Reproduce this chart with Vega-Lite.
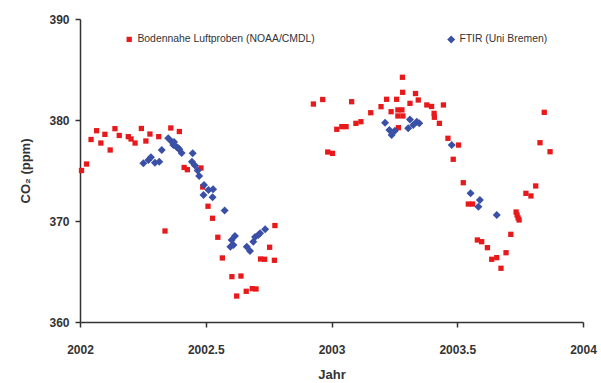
{
  "$schema": "https://vega.github.io/schema/vega-lite/v6.json",
  "width": 503,
  "height": 303,
  "autosize": {"type": "none"},
  "padding": {"left": 80, "top": 19, "right": 18, "bottom": 61},
  "background": "white",
  "config": {
    "view": {"stroke": null},
    "font": "Liberation Sans",
    "axis": {
      "grid": false,
      "domainColor": "#333333",
      "domainWidth": 1.5,
      "tickColor": "#333333",
      "tickWidth": 1.5,
      "tickSize": 5,
      "labelFlush": false,
      "labelFont": "Liberation Sans",
      "labelFontWeight": "bold",
      "labelFontSize": 12,
      "labelColor": "#333333",
      "titleFont": "Liberation Sans",
      "titleFontWeight": "bold",
      "titleFontSize": 13,
      "titleColor": "#333333"
    }
  },
  "data": {
    "values": [
      {"g": "N", "t": 2002.006, "c": 375.0},
      {"g": "N", "t": 2002.026, "c": 375.64},
      {"g": "N", "t": 2002.044, "c": 378.07},
      {"g": "N", "t": 2002.066, "c": 378.94},
      {"g": "N", "t": 2002.083, "c": 377.72},
      {"g": "N", "t": 2002.099, "c": 378.58},
      {"g": "N", "t": 2002.12, "c": 377.03},
      {"g": "N", "t": 2002.139, "c": 379.14},
      {"g": "N", "t": 2002.156, "c": 378.47},
      {"g": "N", "t": 2002.192, "c": 378.35},
      {"g": "N", "t": 2002.203, "c": 378.12},
      {"g": "N", "t": 2002.219, "c": 377.72},
      {"g": "N", "t": 2002.244, "c": 379.16},
      {"g": "N", "t": 2002.262, "c": 377.92},
      {"g": "N", "t": 2002.278, "c": 378.61},
      {"g": "N", "t": 2002.313, "c": 378.35},
      {"g": "N", "t": 2002.338, "c": 369.01},
      {"g": "N", "t": 2002.361, "c": 379.21},
      {"g": "N", "t": 2002.395, "c": 378.86},
      {"g": "N", "t": 2002.414, "c": 375.3},
      {"g": "N", "t": 2002.427, "c": 375.08},
      {"g": "N", "t": 2002.481, "c": 375.25},
      {"g": "N", "t": 2002.488, "c": 373.37},
      {"g": "N", "t": 2002.509, "c": 371.46},
      {"g": "N", "t": 2002.527, "c": 370.27},
      {"g": "N", "t": 2002.548, "c": 368.39},
      {"g": "N", "t": 2002.566, "c": 366.34},
      {"g": "N", "t": 2002.604, "c": 364.49},
      {"g": "N", "t": 2002.64, "c": 364.55},
      {"g": "N", "t": 2002.623, "c": 362.57},
      {"g": "N", "t": 2002.661, "c": 363.04},
      {"g": "N", "t": 2002.685, "c": 363.3},
      {"g": "N", "t": 2002.7, "c": 363.27},
      {"g": "N", "t": 2002.718, "c": 366.24},
      {"g": "N", "t": 2002.734, "c": 366.21},
      {"g": "N", "t": 2002.773, "c": 366.11},
      {"g": "N", "t": 2002.754, "c": 367.4},
      {"g": "N", "t": 2002.775, "c": 369.55},
      {"g": "N", "t": 2002.928, "c": 381.58},
      {"g": "N", "t": 2002.965, "c": 382.03},
      {"g": "N", "t": 2002.985, "c": 376.83},
      {"g": "N", "t": 2003.004, "c": 376.7},
      {"g": "N", "t": 2003.021, "c": 379.08},
      {"g": "N", "t": 2003.041, "c": 379.34},
      {"g": "N", "t": 2003.058, "c": 379.34},
      {"g": "N", "t": 2003.08, "c": 381.81},
      {"g": "N", "t": 2003.097, "c": 379.67},
      {"g": "N", "t": 2003.117, "c": 379.83},
      {"g": "N", "t": 2003.156, "c": 380.72},
      {"g": "N", "t": 2003.197, "c": 381.32},
      {"g": "N", "t": 2003.219, "c": 382.05},
      {"g": "N", "t": 2003.237, "c": 380.82},
      {"g": "N", "t": 2003.259, "c": 382.05},
      {"g": "N", "t": 2003.266, "c": 379.24},
      {"g": "N", "t": 2003.282, "c": 384.23},
      {"g": "N", "t": 2003.283, "c": 382.74},
      {"g": "N", "t": 2003.264, "c": 381.0},
      {"g": "N", "t": 2003.28, "c": 381.0},
      {"g": "N", "t": 2003.264, "c": 380.4},
      {"g": "N", "t": 2003.284, "c": 380.4},
      {"g": "N", "t": 2003.312, "c": 381.65},
      {"g": "N", "t": 2003.334, "c": 382.62},
      {"g": "N", "t": 2003.345, "c": 381.98},
      {"g": "N", "t": 2003.379, "c": 381.49},
      {"g": "N", "t": 2003.398, "c": 381.34},
      {"g": "N", "t": 2003.408, "c": 380.66},
      {"g": "N", "t": 2003.409, "c": 380.27},
      {"g": "N", "t": 2003.429, "c": 379.67},
      {"g": "N", "t": 2003.445, "c": 381.49},
      {"g": "N", "t": 2003.463, "c": 378.19},
      {"g": "N", "t": 2003.484, "c": 376.11},
      {"g": "N", "t": 2003.505, "c": 377.52},
      {"g": "N", "t": 2003.524, "c": 373.79},
      {"g": "N", "t": 2003.544, "c": 371.68},
      {"g": "N", "t": 2003.561, "c": 371.68},
      {"g": "N", "t": 2003.58, "c": 368.12},
      {"g": "N", "t": 2003.597, "c": 367.95},
      {"g": "N", "t": 2003.62, "c": 367.36},
      {"g": "N", "t": 2003.637, "c": 366.21},
      {"g": "N", "t": 2003.657, "c": 366.37},
      {"g": "N", "t": 2003.674, "c": 365.32},
      {"g": "N", "t": 2003.694, "c": 366.86},
      {"g": "N", "t": 2003.713, "c": 368.68},
      {"g": "N", "t": 2003.734, "c": 370.89},
      {"g": "N", "t": 2003.738, "c": 370.59},
      {"g": "N", "t": 2003.742, "c": 370.3},
      {"g": "N", "t": 2003.746, "c": 370.1},
      {"g": "N", "t": 2003.773, "c": 372.74},
      {"g": "N", "t": 2003.793, "c": 372.48},
      {"g": "N", "t": 2003.812, "c": 373.47},
      {"g": "N", "t": 2003.829, "c": 377.75},
      {"g": "N", "t": 2003.846, "c": 380.76},
      {"g": "N", "t": 2003.869, "c": 376.86},
      {"g": "F", "t": 2002.252, "c": 375.71},
      {"g": "F", "t": 2002.272, "c": 376.04},
      {"g": "F", "t": 2002.282, "c": 376.31},
      {"g": "F", "t": 2002.298, "c": 375.77},
      {"g": "F", "t": 2002.315, "c": 375.87},
      {"g": "F", "t": 2002.325, "c": 377.03},
      {"g": "F", "t": 2002.351, "c": 378.19},
      {"g": "F", "t": 2002.365, "c": 377.85},
      {"g": "F", "t": 2002.371, "c": 377.52},
      {"g": "F", "t": 2002.374, "c": 377.82},
      {"g": "F", "t": 2002.384, "c": 377.33},
      {"g": "F", "t": 2002.39, "c": 377.23},
      {"g": "F", "t": 2002.395, "c": 377.1},
      {"g": "F", "t": 2002.404, "c": 376.73},
      {"g": "F", "t": 2002.448, "c": 376.7},
      {"g": "F", "t": 2002.445, "c": 375.87},
      {"g": "F", "t": 2002.457, "c": 375.5},
      {"g": "F", "t": 2002.468, "c": 375.0},
      {"g": "F", "t": 2002.474, "c": 374.46},
      {"g": "F", "t": 2002.493, "c": 373.56},
      {"g": "F", "t": 2002.491, "c": 372.57},
      {"g": "F", "t": 2002.511, "c": 373.07},
      {"g": "F", "t": 2002.529, "c": 373.14},
      {"g": "F", "t": 2002.527, "c": 372.35},
      {"g": "F", "t": 2002.575, "c": 371.04},
      {"g": "F", "t": 2002.616, "c": 368.51},
      {"g": "F", "t": 2002.603, "c": 368.12},
      {"g": "F", "t": 2002.598, "c": 367.46},
      {"g": "F", "t": 2002.61, "c": 367.62},
      {"g": "F", "t": 2002.663, "c": 367.46},
      {"g": "F", "t": 2002.676, "c": 367.03},
      {"g": "F", "t": 2002.689, "c": 367.95},
      {"g": "F", "t": 2002.696, "c": 368.42},
      {"g": "F", "t": 2002.709, "c": 368.61},
      {"g": "F", "t": 2002.716, "c": 368.78},
      {"g": "F", "t": 2002.736, "c": 369.18},
      {"g": "F", "t": 2003.213, "c": 379.73},
      {"g": "F", "t": 2003.23, "c": 379.01},
      {"g": "F", "t": 2003.239, "c": 378.51},
      {"g": "F", "t": 2003.252, "c": 378.94},
      {"g": "F", "t": 2003.305, "c": 379.18},
      {"g": "F", "t": 2003.312, "c": 380.05},
      {"g": "F", "t": 2003.325, "c": 379.5},
      {"g": "F", "t": 2003.339, "c": 379.83},
      {"g": "F", "t": 2003.349, "c": 379.67},
      {"g": "F", "t": 2003.478, "c": 377.52},
      {"g": "F", "t": 2003.553, "c": 372.74},
      {"g": "F", "t": 2003.59, "c": 372.08},
      {"g": "F", "t": 2003.584, "c": 371.42},
      {"g": "F", "t": 2003.657, "c": 370.59}
    ]
  },
  "mark": {"type": "point", "filled": true, "opacity": 1},
  "encoding": {
    "x": {
      "field": "t",
      "type": "quantitative",
      "scale": {"domain": [2002, 2004], "nice": false, "zero": false},
      "axis": {
        "title": "Jahr",
        "values": [2002, 2002.5, 2003, 2003.5, 2004],
        "format": "~g",
        "labelPadding": 17,
        "titlePadding": 13
      }
    },
    "y": {
      "field": "c",
      "type": "quantitative",
      "scale": {"domain": [360, 390], "nice": false, "zero": false},
      "axis": {
        "title": "CO₂ (ppm)",
        "values": [360, 370, 380, 390],
        "labelPadding": 6,
        "titlePadding": 16
      }
    },
    "color": {
      "field": "g",
      "type": "nominal",
      "scale": {"domain": ["N", "F"], "range": ["#e8191b", "#3a50a6"]},
      "legend": {
        "title": null,
        "orient": "none",
        "legendX": 44,
        "legendY": 15,
        "direction": "horizontal",
        "columnPadding": 131,
        "labelFontSize": 10.4,
        "labelLimit": 400,
        "labelColor": "#333333",
        "labelOffset": 3,
        "labelExpr": "datum.label == 'N' ? 'Bodennahe Luftproben (NOAA/CMDL)' : 'FTIR (Uni Bremen)'"
      }
    },
    "shape": {
      "field": "g",
      "type": "nominal",
      "scale": {"domain": ["N", "F"], "range": ["square", "diamond"]}
    },
    "size": {
      "field": "g",
      "type": "nominal",
      "scale": {"domain": ["N", "F"], "range": [28, 64]},
      "legend": null
    }
  }
}
